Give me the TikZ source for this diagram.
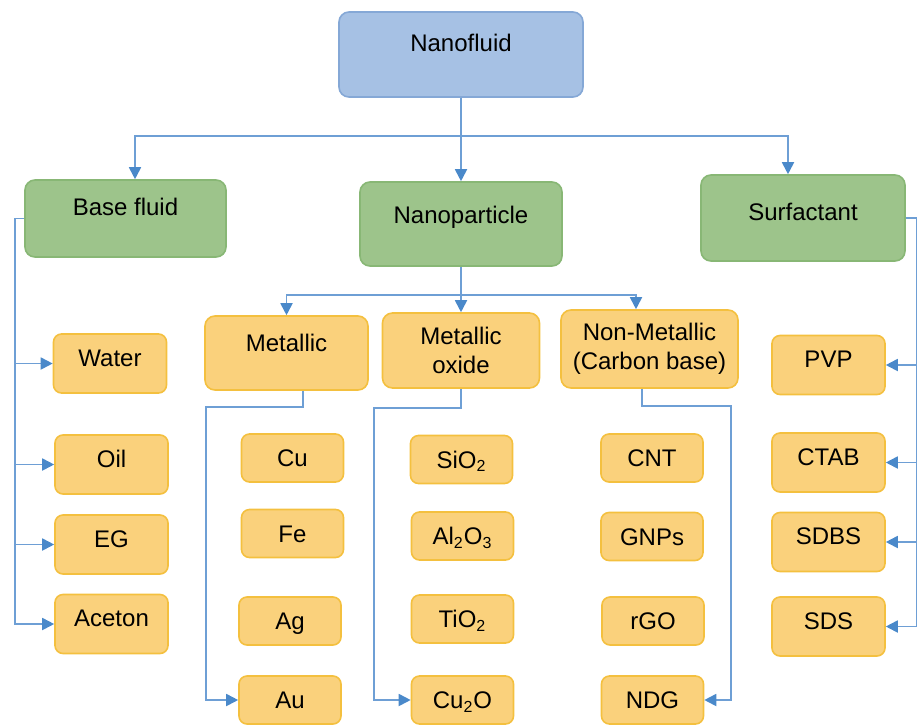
\documentclass[tikz,border=0pt]{standalone}
\usepackage{fontspec}
\setmainfont{Liberation Sans}
\usepackage{xcolor}
\usetikzlibrary{arrows.meta, positioning, calc}

\definecolor{nanoblue}{HTML}{A6C1E4}
\definecolor{nanobluedark}{HTML}{85A8D6}
\definecolor{catgreen}{HTML}{9DC48B}
\definecolor{catgreendark}{HTML}{88B775}
\definecolor{typeorange}{HTML}{FAD17C}
\definecolor{typeorangedark}{HTML}{F4C03F}
\definecolor{linkblue}{HTML}{6E9FD5}
\definecolor{tipblue}{HTML}{4A89CA}

\tikzset{
  box/.style={rounded corners=5pt, line width=0.8pt, inner sep=2pt, align=center},
  lifted/.style={text height=8.6pt, text depth=#1},
  mainbox/.style={box, fill=nanoblue, draw=nanobluedark},
  catbox/.style={box, fill=catgreen, draw=catgreendark},
  typebox/.style={box, fill=typeorange, draw=typeorangedark},
  leaf/.style={typebox, rounded corners=4pt, minimum width=51pt, minimum height=24pt, lifted=0pt},
  sideleaf/.style={typebox, rounded corners=4pt, minimum width=56.5pt, minimum height=29.5pt, lifted=6pt},
  link/.style={draw=linkblue, line width=0.9pt, -{Triangle[length=6pt, width=6pt, color=tipblue]}},
}

\begin{document}
\begin{tikzpicture}[x=0.5pt, y=-0.5pt, font=\fontsize{12}{14.5}\selectfont]
  \useasboundingbox (0,0) rectangle (917,725);

  % top and categories
  \node[mainbox, minimum width=122pt, minimum height=42.5pt, lifted=11.5pt] (nanofluid) at (461,54.5) {Nanofluid};
  \node[catbox, minimum width=100.5pt, minimum height=38.5pt, lifted=11.5pt] (basefluid) at (125.5,218.5) {Base fluid};
  \node[catbox, minimum width=101pt, minimum height=42pt, lifted=9pt] (nanoparticle) at (461,224) {Nanoparticle};
  \node[catbox, minimum width=102pt, minimum height=43pt, lifted=6pt] (surfactant) at (803,218) {Surfactant};

  % particle types
  \node[typebox, minimum width=81.5pt, minimum height=37pt, lifted=10pt] (metallic) at (286.5,353) {Metallic};
  \node[typebox, minimum width=78.5pt, minimum height=37.5pt] (oxide) at (461,350.5) {Metallic\\oxide};
  \node[typebox, minimum width=88.5pt, minimum height=39pt] (nonmetal) at (649.5,349) {Non-Metallic\\(Carbon base)};

  % base fluids
  \node[sideleaf] (water) at (110,363.5) {Water};
  \node[sideleaf] (oil) at (111.5,464.5) {Oil};
  \node[sideleaf] (eg) at (111.5,544.5) {EG};
  \node[sideleaf] (aceton) at (111.5,624) {Aceton};

  % surfactants
  \node[sideleaf] (pvp) at (828.5,365) {PVP};
  \node[sideleaf] (ctab) at (828.5,462.5) {CTAB};
  \node[sideleaf] (sdbs) at (828.5,542) {SDBS};
  \node[sideleaf] (sds) at (828.5,626.5) {SDS};

  % metals
  \node[leaf] (cu) at (292.5,458) {Cu};
  \node[leaf] (fe) at (292.5,533.5) {Fe};
  \node[leaf] (ag) at (290,621) {Ag};
  \node[leaf] (au) at (290,700) {Au};

  % oxides
  \node[leaf] (sio) at (461.5,459.5) {SiO\textsubscript{2}};
  \node[leaf] (alo) at (462.5,536) {Al\textsubscript{2}O\textsubscript{3}};
  \node[leaf] (tio) at (462.5,619) {TiO\textsubscript{2}};
  \node[leaf] (cuo) at (462.5,700) {Cu\textsubscript{2}O};

  % carbon
  \node[leaf] (cnt) at (652,458) {CNT};
  \node[leaf] (gnp) at (652,536.5) {GNPs};
  \node[leaf] (rgo) at (653,621) {rGO};
  \node[leaf] (ndg) at (652.5,700) {NDG};

  % links
  \draw[link] (nanofluid.south) -- ++(0,38) -| ([xshift=4.75pt]basefluid.north);
  \draw[link] (nanofluid.south) -- (nanoparticle.north);
  \draw[link] (nanofluid.south) -- ++(0,38) -| ([xshift=-7.5pt]surfactant.north);

  \draw[link] (nanoparticle.south) -- ++(0,28) -| (metallic.north);
  \draw[link] (nanoparticle.south) -- (oxide.north);
  \draw[link] (nanoparticle.south) -- ++(0,28) -| ([xshift=-6.75pt]nonmetal.north);

  \foreach \item in {water, oil, eg, aceton}
    \draw[link] (basefluid.west) -- ++(-9,0) |- (\item.west);
  \foreach \item in {pvp, ctab, sdbs, sds}
    \draw[link] (surfactant.east) -- ++(11,0) |- (\item.east);

  \draw[link] ([xshift=8.25pt]metallic.south) -- ++(0,16) -- ++(-97,0) |- (au.west);
  \draw[link] (oxide.south) -- ++(0,19) -- ++(-87,0) |- (cuo.west);
  \draw[link] ([xshift=-3.75pt]nonmetal.south) -- ++(0,17) -- ++(89,0) |- (ndg.east);
\end{tikzpicture}
\end{document}
